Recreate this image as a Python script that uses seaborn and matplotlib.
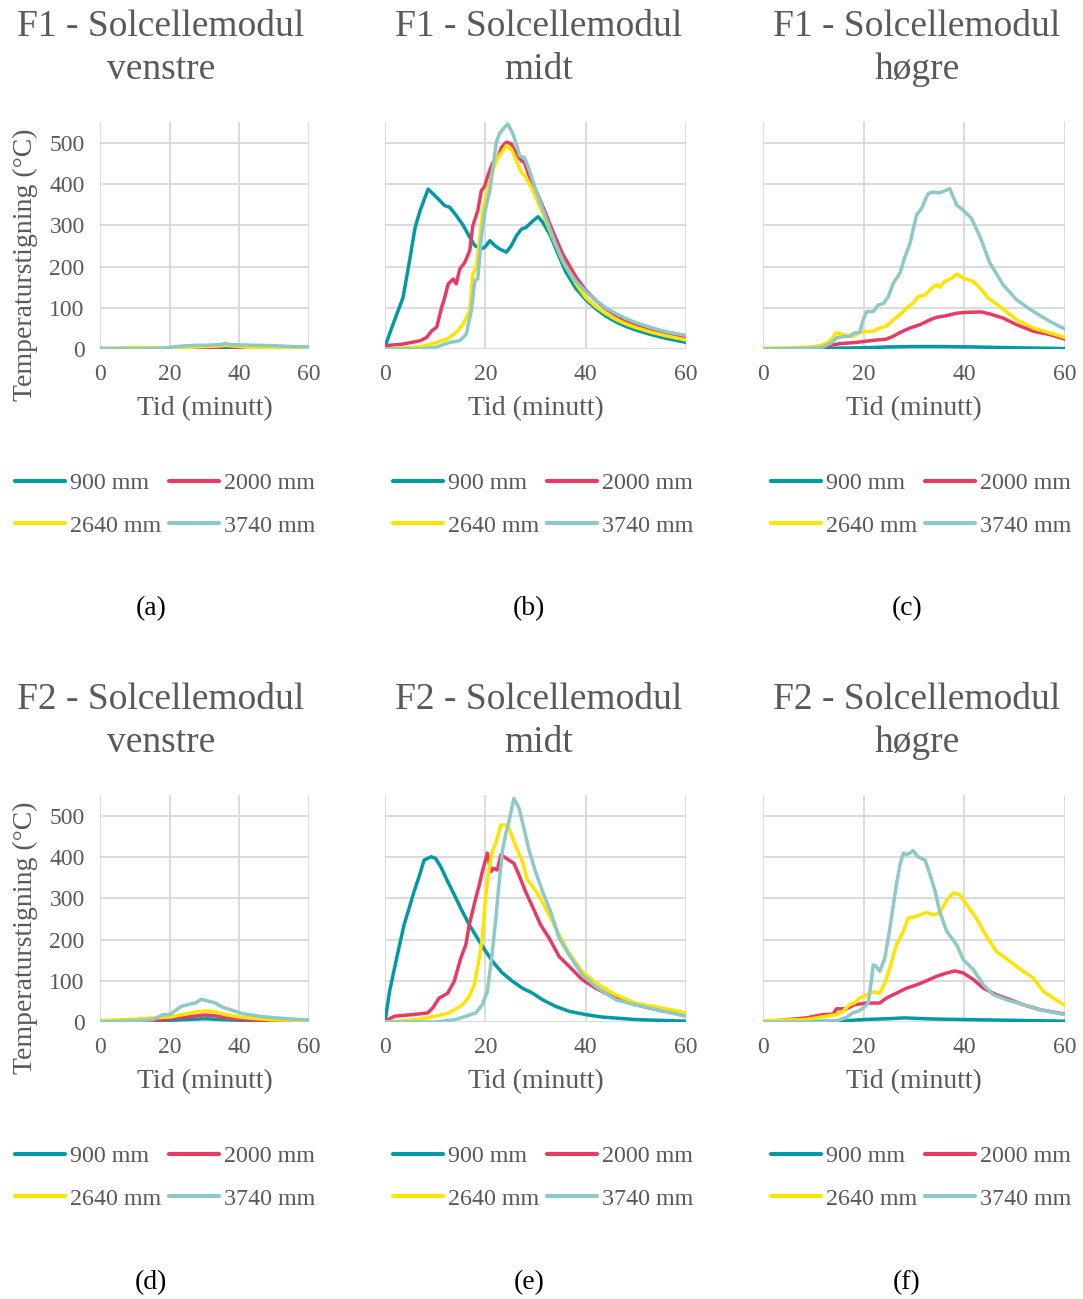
import matplotlib
matplotlib.use('Agg')
import matplotlib.pyplot as plt
from matplotlib.lines import Line2D
import seaborn as sns

# --- data: time (min) and temperature rise (°C) per series ---
labels = ['900 mm', '2000 mm', '2640 mm', '3740 mm']

# F1 venstre
a_900_t = [0, 10, 20, 30, 36, 40, 50, 60]
a_900_v = [0, 0, 1, 2, 4, 2, 1, 0]
a_2000_t = [0, 10, 20, 25, 30, 34, 36, 38, 45, 50, 60]
a_2000_v = [0, 0, 0, 2, 3, 5, 8, 5, 3, 1, 0]
a_2640_t = [0, 5, 10, 15, 20, 25, 30, 34, 36, 40, 45, 50, 60]
a_2640_v = [1, 2, 4, 3, 2, 4, 6, 7, 9, 6, 3, 2, 1]
a_3740_t = [0, 10, 18, 20, 22, 25, 28, 30, 33, 35, 36, 37, 40, 45, 50, 55, 60]
a_3740_v = [2, 1, 2, 4, 6, 8, 9, 9, 10, 11, 14, 11, 10, 9, 8, 6, 5]

# F1 midt
b_900_t = [0, 1, 2, 3.6, 5, 6, 7, 8.6, 10.3, 11.9, 12.9, 14.2, 15.6, 16.9, 17.9, 19.2, 19.9, 20.9,
           21.9, 22.8, 24.2, 25.2, 26.2, 27.2, 28.1, 29.5, 30.5, 31.5, 33, 34, 36, 38, 40, 42, 44,
           46, 48, 50, 53, 56, 60]
b_900_v = [5, 40, 73, 125, 222, 295, 336, 388, 368, 348, 344, 324, 300, 271, 251, 243, 247, 263,
           251, 243, 235, 251, 275, 291, 295, 311, 321, 307, 275, 245, 188, 148, 120, 98, 80,
           66, 55, 46, 35, 26, 16]
b_2000_t = [0, 3.6, 7, 8.3, 9.3, 10.3, 11.3, 11.9, 12.6, 13.6, 14.2, 14.9, 15.9, 16.9, 17.5, 18.5,
            19.2, 19.9, 20.5, 21.5, 22.5, 23.2, 24.2, 25.2, 26.2, 27.2, 27.8, 28.8, 30.1, 31.8,
            33.4, 35.4, 38.1, 40, 42, 44, 46, 48, 50, 53, 56, 60]
b_2000_v = [8, 12, 20, 28, 44, 53, 101, 125, 158, 170, 158, 194, 210, 239, 299, 336,
            384, 396, 421, 453, 465, 489, 502, 498, 473, 457, 453, 417, 384, 336,
            287, 231, 174, 143, 118, 98, 82, 69, 58, 46, 36, 26]
b_2640_t = [0, 7, 10.3, 12.3, 14.2, 15.6, 16.9, 17.5, 18.2, 18.9, 19.5, 20.5, 21.5, 22.5, 23.5,
            24.2, 25.2, 26.2, 27.2, 28.1, 29.5, 31.5, 33.4, 35.4, 38.1, 40, 42, 44, 46, 48, 50,
            53, 56, 60]
b_2640_v = [0, 5, 16, 24, 40, 61, 93, 182, 198, 271, 336, 388, 433, 465, 481,
            494, 485, 457, 429, 417, 384, 328, 271, 214, 158, 125, 103, 86, 72, 61, 52,
            41, 32, 22]
b_3740_t = [0, 7, 10.3, 12.9, 14.9, 16.2, 17.2, 17.9, 18.5, 19.2, 19.9, 20.9, 21.5, 22.2, 22.8,
            23.8, 24.5, 25.5, 26.5, 26.8, 27.8, 28.8, 30.1, 31.8, 34, 36, 38, 40, 42, 44, 46, 48,
            50, 53, 56, 60]
b_3740_v = [0, 0, 5, 16, 20, 36, 93, 166, 170, 271, 332, 384, 441, 502, 522,
            538, 546, 522, 485, 469, 465, 433, 384, 328, 255, 200, 165, 140, 118, 100, 86, 74,
            64, 52, 42, 33]

# F1 høgre
c_900_t = [0, 10, 15, 20, 25, 30, 35, 42, 50, 60]
c_900_v = [0, 1, 2, 3, 5, 6, 6, 5, 3, 1]
c_2000_t = [0, 10.6, 13.9, 15.3, 18.6, 21.9, 24.5, 25.9, 27.2, 29.2, 31.2, 33.2, 34.5, 36.5, 38.5,
            40.5, 43.4, 45.1, 47.7, 50.4, 53.7, 57, 60]
c_2000_v = [0, 2, 10, 13, 16, 21, 24, 31, 40, 51, 59, 71, 77, 81, 87,
            89, 90, 85, 75, 59, 43, 35, 24]
c_2640_t = [0, 5, 10, 11.9, 13.3, 14.6, 15.9, 17.9, 19.2, 20.6, 21.9, 23.2, 24.5, 25.9, 27.2, 28.5,
            29.8, 30.8, 32.2, 33.5, 34.5, 35.1, 36.1, 37.5, 38.5, 39.8, 41.8, 43.1, 44.8, 47.1,
            50.4, 53.7, 57, 60]
c_2640_v = [2, 3, 5, 10, 19, 40, 35, 31, 40, 43, 43, 51, 55, 71, 83, 99,
            111, 127, 131, 148, 156, 150, 164, 172, 182, 172, 164, 148, 123, 103,
            71, 51, 39, 28]
c_3740_t = [0, 10, 11.9, 13.6, 14.6, 15.3, 17.2, 18.2, 19.2, 19.9, 20.6, 21.9, 22.9, 23.9, 24.9,
            25.9, 27.2, 28.2, 29.2, 30.5, 31.5, 32.2, 32.8, 33.8, 35.1, 36.1, 37.1, 38.5, 39.8,
            41.4, 43.1, 45.1, 47.7, 50.4, 53.7, 57, 60]
c_3740_v = [0, 2, 5, 15, 27, 29, 31, 39, 40, 71, 91, 91, 107, 110, 127,
            160, 184, 224, 256, 325, 341, 361, 377, 381, 379, 384, 389, 349, 337,
            317, 273, 208, 156, 119, 91, 67, 48]

# F2 venstre
d_900_t = [0, 10, 20, 25, 30, 35, 40, 45, 50, 60]
d_900_v = [0, 1, 4, 6, 8, 6, 4, 3, 2, 1]
d_2000_t = [0, 10, 15, 20, 25, 28, 30, 33, 38, 45, 50, 60]
d_2000_v = [0, 1, 3, 8, 12, 15, 17, 15, 8, 4, 3, 2]
d_2640_t = [0, 10, 15, 20, 25, 28, 30, 33, 36, 40, 45, 50, 60]
d_2640_v = [3, 7, 10, 12, 20, 25, 27, 25, 18, 12, 8, 5, 4]
d_3740_t = [0, 10, 15.2, 18.1, 20, 21.4, 23.3, 25.7, 27.6, 29, 30.5, 32.9, 35.2, 38.1, 41, 45.7,
            50.5, 55.2, 60]
d_3740_v = [0, 3, 6, 18, 18, 26, 38, 43, 47, 55, 52, 47, 36, 28, 20, 14, 10, 7, 5]

# F2 midt
e_900_t = [0, 0.9, 1.9, 2.9, 3.8, 4.8, 5.8, 6.8, 7.8, 9.2, 10.1, 11.1, 12.5, 13.8, 15.1, 16.8, 18.4,
           20.1, 21.7, 23.4, 25.4, 27.4, 29.4, 31.4, 34, 36.7, 40, 43.3, 49.9, 60]
e_900_v = [0, 74, 131, 187, 236, 276, 317, 353, 393, 401, 397, 377, 341, 309, 276, 236, 204,
           171, 143, 119, 99, 82, 70, 54, 38, 26, 18, 12, 6, 2]
e_2000_t = [0, 1.9, 5.5, 8.5, 9.5, 10.8, 12.5, 13.8, 15.1, 16.1, 16.8, 18.1, 18.8, 19.4, 20.4, 21.1,
            21.7, 22.4, 23.1, 23.7, 24.7, 25.7, 26.7, 28, 29.7, 31, 32.7, 34.7, 36.7, 39.3, 42, 46,
            49.9, 55.2, 60]
e_2000_v = [2, 14, 18, 22, 34, 58, 70, 99, 155, 187, 236, 301, 333, 365, 410, 365,
            373, 369, 406, 401, 393, 385, 357, 317, 272, 236, 204, 159, 135, 103, 82, 58,
            42, 27, 22]
e_2640_t = [0, 6.8, 10.1, 12.8, 15.5, 16.8, 17.8, 18.8, 19.4, 20.1, 20.8, 21.4, 22.1, 23.1, 24.1,
            24.7, 26.1, 27.4, 28.4, 29.7, 31, 32.7, 34.7, 36.7, 39.3, 42, 46, 49.9, 55.2, 60]
e_2640_v = [0, 6, 14, 22, 42, 62, 90, 155, 204, 309, 377, 414, 434, 478, 478,
            470, 426, 389, 345, 325, 300, 260, 212, 167, 123, 95, 66, 46, 34, 22]
e_3740_t = [0, 10.1, 14.1, 16.1, 18.1, 19.4, 20.4, 21.4, 22.1, 22.7, 23.4, 24.1, 24.7, 25.7, 26.7,
            27.7, 28.7, 30, 31.4, 33, 34.7, 36.7, 39.3, 42, 46, 49.9, 55.2, 60]
e_3740_v = [0, 0, 6, 14, 22, 42, 74, 171, 252, 333, 414, 458, 486, 543, 519,
            470, 418, 365, 317, 268, 204, 163, 115, 86, 54, 42, 27, 14]

# F2 høgre
f_900_t = [0, 15, 20, 25, 28, 32, 35, 40, 50, 60]
f_900_v = [0, 2, 6, 8, 10, 8, 7, 6, 4, 2]
f_2000_t = [0, 8.6, 11.9, 13.9, 14.6, 16.6, 18.2, 20.6, 23.2, 24.5, 26.5, 28.5, 30.5, 32.5, 34.5,
            36.5, 38.1, 39.8, 41.8, 43.8, 46.4, 49.1, 51.7, 55, 60]
f_2000_v = [0, 10, 18, 19, 32, 32, 42, 46, 46, 58, 70, 82, 90, 100, 111,
            119, 124, 119, 103, 82, 66, 54, 42, 30, 19]
f_2640_t = [0, 8.6, 12.6, 14.6, 15.9, 17.2, 18.2, 19.2, 20.6, 21.9, 23.2, 24.2, 25.2, 26.5, 27.9,
            28.8, 29.8, 31.2, 32.5, 33.8, 35.1, 36.5, 37.8, 39.1, 40.5, 42.4, 44.4, 46.4, 49.1,
            51.7, 53.7, 55.7, 57.7, 60]
f_2640_v = [3, 6, 14, 18, 26, 42, 46, 58, 66, 73, 70, 94, 131, 187, 220,
            252, 254, 260, 266, 260, 264, 296, 313, 309, 284, 252, 208, 171, 147,
            123, 107, 74, 58, 40]
f_3740_t = [0, 11.9, 14.6, 16.6, 17.9, 18.9, 19.9, 20.9, 21.6, 21.9, 22.5, 23.2, 24.2, 24.9, 25.9,
            26.5, 27.2, 27.9, 28.5, 29.2, 29.8, 30.8, 32.2, 33.2, 34.2, 35.1, 36.5, 38.5, 39.8,
            41.8, 43.8, 45.8, 48.4, 51.7, 55, 60]
f_3740_v = [0, 0, 3, 11, 23, 26, 34, 46, 107, 139, 135, 123, 155, 204, 284,
            333, 381, 410, 406, 410, 416, 401, 393, 357, 317, 268, 220, 187, 151,
            127, 90, 66, 54, 42, 30, 18]

# --- style ---
sns.set_theme(style="whitegrid")
plt.rcParams['font.family'] = ['Liberation Serif', 'DejaVu Serif']

colors = ['#009AA6', '#E83A62', '#FFE400', '#8CC9C7']
gray = '#595959'
gridc = '#D9D9D9'
fs_tick = 17
fs_lab = 20
fs_leg = 17.3
fs_title = 27

W, H = 1083, 1299
fig = plt.figure(figsize=(W / 100, H / 100), dpi=100)

# pixel layout: (left, right, title x, legend x, tag x) and (top, bottom, title y1, y2, legend y, tag y, ylabel y)
cols = [(100, 309, 161, 165, 151), (385, 686, 539, 543, 529), (763, 1065, 917, 921, 907)]
rows = [(122.4, 349, 27, 70, 504.5, 609, 265), (795.4, 1022, 700, 743, 1177.5, 1283, 938)]

panels = [
    ('F1', 'venstre', '(a)', [(a_900_t, a_900_v), (a_2000_t, a_2000_v), (a_2640_t, a_2640_v), (a_3740_t, a_3740_v)]),
    ('F1', 'midt', '(b)', [(b_900_t, b_900_v), (b_2000_t, b_2000_v), (b_2640_t, b_2640_v), (b_3740_t, b_3740_v)]),
    ('F1', 'høgre', '(c)', [(c_900_t, c_900_v), (c_2000_t, c_2000_v), (c_2640_t, c_2640_v), (c_3740_t, c_3740_v)]),
    ('F2', 'venstre', '(d)', [(d_900_t, d_900_v), (d_2000_t, d_2000_v), (d_2640_t, d_2640_v), (d_3740_t, d_3740_v)]),
    ('F2', 'midt', '(e)', [(e_900_t, e_900_v), (e_2000_t, e_2000_v), (e_2640_t, e_2640_v), (e_3740_t, e_3740_v)]),
    ('F2', 'høgre', '(f)', [(f_900_t, f_900_v), (f_2000_t, f_2000_v), (f_2640_t, f_2640_v), (f_3740_t, f_3740_v)]),
]

for i, (fire, side, tag, series) in enumerate(panels):
    r, c = divmod(i, 3)
    left, right, tx, lx, sx = cols[c]
    top, bottom, ty1, ty2, ly, sy, yly = rows[r]
    ax = fig.add_axes([left / W, 1 - bottom / H, (right - left) / W, (bottom - top) / H])

    for (t, v), col in zip(series, colors):
        sns.lineplot(x=t, y=v, ax=ax, color=col, linewidth=2.5, sort=False, legend=False)

    ax.set_xlim(0, 60)
    ax.set_ylim(0, 550)
    ax.set_xticks([0, 20, 40, 60])
    ax.set_yticks([0, 100, 200, 300, 400, 500])
    ax.grid(True, color=gridc, linewidth=1.3)
    for s in ax.spines.values():
        s.set_visible(False)
    ax.tick_params(length=0, labelsize=fs_tick, labelcolor=gray, pad=11)
    ax.set_xlabel('Tid (minutt)', fontsize=fs_lab, color=gray, labelpad=8)
    if c == 0:
        ax.set_ylabel('Temperaturstigning (°C)', fontsize=fs_lab, color=gray)
        ax.yaxis.set_label_coords((38 - left) / (right - left), (bottom - yly) / (bottom - top))
    else:
        ax.set_yticklabels([])
        ax.set_ylabel('')

    fig.text(tx / W, 1 - ty1 / H, f'{fire} - Solcellemodul', ha='center', va='center',
             fontsize=fs_title, color=gray)
    fig.text(tx / W, 1 - ty2 / H, side, ha='center', va='center', fontsize=fs_title, color=gray)
    fig.text(sx / W, 1 - sy / H, tag, ha='center', va='center', fontsize=fs_lab, color='black')

    order = [0, 2, 1, 3]
    handles = [Line2D([], [], color=colors[k], linewidth=3, solid_capstyle='round') for k in order]
    ax.legend(handles, [labels[k] for k in order], ncol=2, loc='center',
              bbox_to_anchor=(lx / W, 1 - ly / H), bbox_transform=fig.transFigure,
              frameon=False, fontsize=fs_leg, labelcolor=gray, handlelength=2.1,
              handletextpad=0.2, columnspacing=0.3, labelspacing=0.85,
              borderpad=0, borderaxespad=0)

fig.savefig('out.png', dpi=100)
